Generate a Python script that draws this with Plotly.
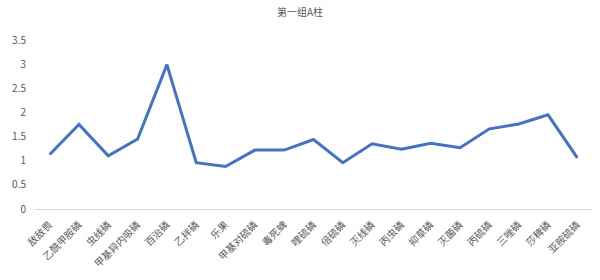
import plotly.graph_objects as go

categories = ["敌敌畏", "乙酰甲胺磷", "虫线磷", "甲基异内吸磷", "百治磷", "乙拌磷", "乐果",
              "甲基对硫磷", "毒死蜱", "喹硫磷", "倍硫磷", "灭线磷", "丙虫磷", "抑草磷",
              "灭菌磷", "丙硫磷", "三唑磷", "莎稗磷", "亚胺硫磷"]
values = [1.13, 1.75, 1.10, 1.45, 2.99, 0.96, 0.88, 1.22, 1.22, 1.44, 0.96, 1.35,
          1.24, 1.36, 1.27, 1.66, 1.76, 1.95, 1.06]
y_ticks = [0, 0.5, 1, 1.5, 2, 2.5, 3, 3.5]
y_ticktext = ["0", "0.5", "1", "1.5", "2", "2.5", "3", "3.5"]
title_text = "第一组A柱"

font_family = "Noto Sans CJK SC, Noto Sans, sans-serif"

fig = go.Figure(go.Scatter(
    x=categories, y=values, mode="lines",
    line=dict(color="#4472C4", width=3),
    hoverinfo="skip"))

fig.update_layout(
    width=600, height=280,
    margin=dict(l=35, r=8, t=40, b=71),
    paper_bgcolor="white", plot_bgcolor="white",
    showlegend=False,
    font=dict(family=font_family, color="#595959", size=10),
    title=dict(text=title_text, x=0.5, xanchor="center", y=0.955, yanchor="middle",
               font=dict(size=10, color="#595959", family=font_family)),
)
fig.update_xaxes(
    type="category", range=[-0.5, len(categories) - 0.5],
    showgrid=False, showline=True, linecolor="#D9D9D9", linewidth=1,
    ticks="", tickangle=-45, tickfont=dict(size=10, color="#595959"),
    ticklabelstandoff=5, zeroline=False,
)
fig.update_yaxes(
    range=[0, 3.5], tickvals=y_ticks, ticktext=y_ticktext,
    showgrid=False, showline=False, zeroline=False, ticks="",
    ticklabelstandoff=8, tickfont=dict(size=10, color="#595959"),
)

fig.write_html("out.html")
